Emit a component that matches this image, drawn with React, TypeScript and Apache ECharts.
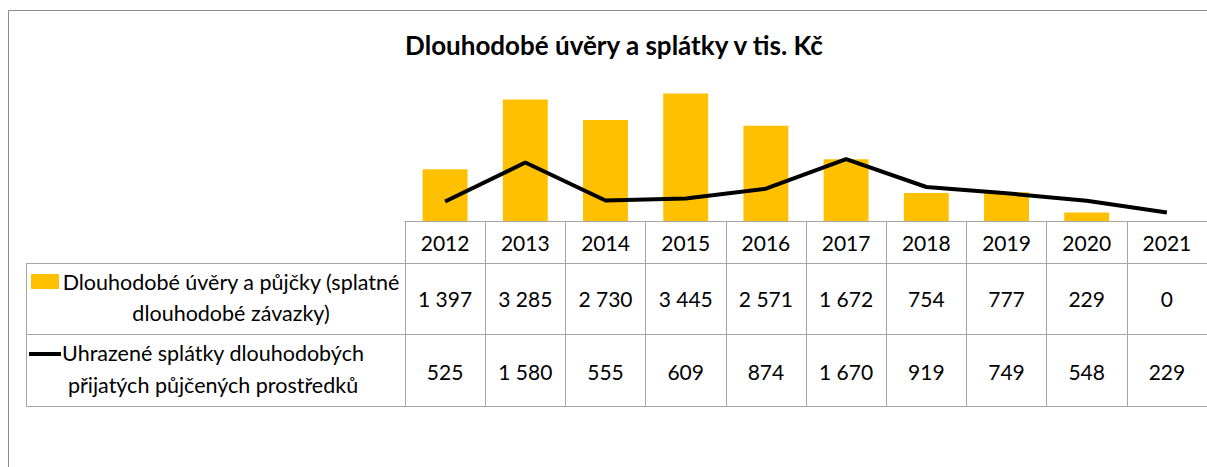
import React, { useEffect, useRef } from "react";
import * as echarts from "echarts";

const years = ["2012", "2013", "2014", "2015", "2016", "2017", "2018", "2019", "2020", "2021"];
const loans = [1397, 3285, 2730, 3445, 2571, 1672, 754, 777, 229, 0];
const repayments = [525, 1580, 555, 609, 874, 1670, 919, 749, 548, 229];
const titleText = "Dlouhodobé úvěry a splátky v tis. Kč";
const loansNameLines = ["Dlouhodobé úvěry a půjčky (splatné", "dlouhodobé závazky)"];
const repaymentsNameLines = ["Uhrazené splátky dlouhodobých", "přijatých půjčených prostředků"];

const FONT = "Lato";
const GRID_COLOR = "#a6a6a6";
const BAR_COLOR = "#FFC000";

const fmt = (v: number) => String(v).replace(/\B(?=(\d{3})+(?!\d))/g, " ");

export default function App() {
  const ref = useRef<HTMLDivElement>(null);
  useEffect(() => {
    if (!ref.current) return;
    const chart = echarts.init(ref.current, undefined, { renderer: "svg" });
    const labelBase = { interval: 0, verticalAlign: "middle", color: "#000", fontFamily: FONT, fontSize: 21 };
    const hline = (x1: number, y: number, x2: number) => ({
      type: "line",
      shape: { x1, y1: y, x2, y2: y },
      style: { stroke: GRID_COLOR, lineWidth: 1 },
      silent: true,
    });
    chart.setOption({
      animation: false,
      backgroundColor: "#fff",
      grid: { left: 405, right: 0, top: 73, bottom: 246, containLabel: false },
      yAxis: { type: "value", min: 0, max: 4000, show: false },
      xAxis: [
        {
          type: "category",
          data: years,
          position: "bottom",
          axisLine: { lineStyle: { color: GRID_COLOR, width: 1 } },
          axisTick: { show: true, length: 186, interval: 0, lineStyle: { color: GRID_COLOR, width: 1 } },
          axisLabel: { ...labelBase, margin: 21 },
          splitLine: { show: false },
        },
        {
          type: "category",
          data: years,
          position: "bottom",
          axisLine: { show: false },
          axisTick: { show: false },
          axisLabel: { ...labelBase, margin: 77, formatter: (_v: string, i: number) => fmt(loans[i]) },
        },
        {
          type: "category",
          data: years,
          position: "bottom",
          axisLine: { show: false },
          axisTick: { show: false },
          axisLabel: { ...labelBase, margin: 150, formatter: (_v: string, i: number) => fmt(repayments[i]) },
        },
      ],
      series: [
        {
          name: loansNameLines.join(" "),
          type: "bar",
          data: loans,
          barWidth: "56%",
          itemStyle: { color: BAR_COLOR },
        },
        {
          name: repaymentsNameLines.join(" "),
          type: "line",
          data: repayments,
          symbol: "none",
          lineStyle: { color: "#000", width: 4 },
          itemStyle: { color: "#000" },
        },
      ],
      graphic: [
        // outer frame
        { type: "line", shape: { x1: 8.5, y1: 10.5, x2: 8.5, y2: 467 }, style: { stroke: "#8c8c8c", lineWidth: 1 }, silent: true },
        { type: "line", shape: { x1: 8.5, y1: 10.5, x2: 1207, y2: 10.5 }, style: { stroke: "#8c8c8c", lineWidth: 1 }, silent: true },
        // table lines
        hline(26, 263.5, 1207),
        hline(26, 334.5, 1207),
        hline(26, 406.5, 1207),
        { type: "line", shape: { x1: 26.5, y1: 263.5, x2: 26.5, y2: 406.5 }, style: { stroke: GRID_COLOR, lineWidth: 1 }, silent: true },
        // title
        {
          type: "text",
          x: 614,
          y: 45,
          style: { text: titleText, align: "center", verticalAlign: "middle", font: `bold 26px ${FONT}`, fill: "#000" },
        },
        // legend keys
        { type: "rect", shape: { x: 31, y: 274, width: 28, height: 15 }, style: { fill: BAR_COLOR } },
        { type: "line", shape: { x1: 29, y1: 354, x2: 61, y2: 354 }, style: { stroke: "#000", lineWidth: 4 } },
        // legend labels
        {
          type: "text",
          x: 231,
          y: 297.5,
          style: {
            text: loansNameLines.join("\n"),
            align: "center",
            verticalAlign: "middle",
            lineHeight: 31,
            font: `21.5px ${FONT}`,
            fill: "#000",
          },
        },
        {
          type: "text",
          x: 213,
          y: 369,
          style: {
            text: repaymentsNameLines.join("\n"),
            align: "center",
            verticalAlign: "middle",
            lineHeight: 32,
            font: `21.5px ${FONT}`,
            fill: "#000",
          },
        },
      ],
    });
    return () => chart.dispose();
  }, []);
  return <div ref={ref} style={{ position: "fixed", left: 0, top: 0, width: 1207, height: 467 }} />;
}
